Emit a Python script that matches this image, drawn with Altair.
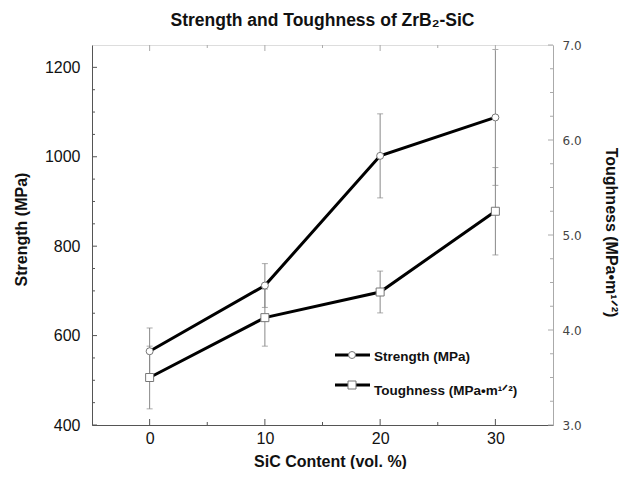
import altair as alt
import pandas as pd

# ---- data ----
SIC = [0, 10, 20, 30]
STRENGTH = [565, 712, 1002, 1088]
STRENGTH_ERR = [52, 49, 94, 152]
TOUGHNESS = [3.50, 4.13, 4.40, 5.25]
TOUGHNESS_ERR = [0.33, 0.30, 0.22, 0.46]
SERIES = ["Strength (MPa)", "Toughness (MPa\u2022m\u00b9\u141f\u00b2)"]

X_MAJOR = [0, 10, 20, 30]
X_MINOR = [5, 15, 25]
S_MAJOR = [400, 600, 800, 1000, 1200]
S_MINOR = [450, 500, 550, 650, 700, 750, 850, 900, 950, 1050, 1100, 1150]
T_MAJOR = [3, 4, 5, 6, 7]
T_MINOR = [3.25, 3.5, 3.75, 4.25, 4.5, 4.75, 5.25, 5.5, 5.75, 6.25, 6.5, 6.75]

W, H = 461, 380
X_DOMAIN = [-5, 35]
S_DOMAIN = [400, 1250]
T_DOMAIN = [3, 7]

DARK = "#555555"
LIGHT = "#aaaaaa"
ERR = "#888888"
FONT = "Liberation Sans"

xscale = alt.Scale(domain=X_DOMAIN, nice=False, zero=False)
sscale = alt.Scale(domain=S_DOMAIN, nice=False, zero=False)
tscale = alt.Scale(domain=T_DOMAIN, nice=False, zero=False)

df_s = pd.DataFrame({
    "sic": SIC, "v": STRENGTH,
    "lo": [v - e for v, e in zip(STRENGTH, STRENGTH_ERR)],
    "hi": [v + e for v, e in zip(STRENGTH, STRENGTH_ERR)],
})
df_t = pd.DataFrame({
    "sic": SIC, "v": TOUGHNESS,
    "lo": [v - e for v, e in zip(TOUGHNESS, TOUGHNESS_ERR)],
    "hi": [v + e for v, e in zip(TOUGHNESS, TOUGHNESS_ERR)],
})
caps_s = pd.DataFrame({"sic": SIC + SIC, "c": list(df_s["lo"]) + list(df_s["hi"])})
caps_t = pd.DataFrame({"sic": SIC + SIC, "c": list(df_t["lo"]) + list(df_t["hi"])})

x_axis = alt.Axis(
    orient="bottom", values=X_MAJOR, format="d", ticks=False, tickSize=0,
    grid=False, domainColor=DARK, labelFont=FONT, labelFontSize=16,
    labelColor="#111", labelPadding=5,
    title="SiC Content (vol. %)", titleFont=FONT, titleFontSize=16,
    titleFontWeight="bold", titleColor="#111", titleX=238, titleY=36,
    titleBaseline="middle", titleAlign="center",
)
s_axis = alt.Axis(
    orient="left", values=S_MAJOR, format="d", ticks=False, tickSize=0,
    grid=False, domainColor=DARK, labelFont=FONT, labelFontSize=16,
    labelColor="#111", labelPadding=12, title="Strength (MPa)", titleFont=FONT,
    titleFontSize=16, titleFontWeight="bold", titleColor="#111", titleX=-71,
    titleY=184, titleBaseline="middle", titleAlign="center", titleAngle=270,
)
t_axis = alt.Axis(
    orient="right", values=T_MAJOR, format=".1f", ticks=False, tickSize=0,
    grid=False, domainColor=LIGHT, labelFont="DejaVu Sans", labelFontSize=12,
    labelColor="#444", labelPadding=9, title=SERIES[1], titleFont=FONT,
    titleFontSize=16, titleFontWeight="bold", titleColor="#111",
    titleX=57, titleY=187, titleBaseline="middle", titleAlign="center",
    titleAngle=90,
)

# every layer uses the same x encoding (same axis object) so axes merge cleanly
xn = lambda f: alt.X(f, scale=xscale, axis=x_axis)
ys = lambda f: alt.Y(f, scale=sscale, axis=None)
yt = lambda f: alt.Y(f, scale=tscale, axis=None)

base_s = alt.Chart(df_s)
base_t = alt.Chart(df_t)

# error bars
s_err = base_s.mark_rule(color=ERR, strokeWidth=1).encode(
    x=xn("sic:Q"), y=ys("lo:Q"), y2="hi:Q")
t_err = base_t.mark_rule(color=ERR, strokeWidth=1).encode(
    x=xn("sic:Q"), y=yt("lo:Q"), y2="hi:Q")
s_cap = alt.Chart(caps_s).mark_tick(color=ERR, orient="horizontal", size=6, thickness=1).encode(
    x=xn("sic:Q"), y=ys("c:Q"))
t_cap = alt.Chart(caps_t).mark_tick(color=ERR, orient="horizontal", size=6, thickness=1).encode(
    x=xn("sic:Q"), y=yt("c:Q"))

# lines (carry the y axes)
s_line = base_s.mark_line(color="black", strokeWidth=3).encode(
    x=xn("sic:Q"), y=alt.Y("v:Q", scale=sscale, axis=s_axis))
t_line = base_t.mark_line(color="black", strokeWidth=3).encode(
    x=xn("sic:Q"), y=alt.Y("v:Q", scale=tscale, axis=t_axis))

# markers
s_pts = base_s.mark_point(shape="circle", size=49, filled=True, fill="white",
                          stroke="#777", strokeWidth=1, opacity=1).encode(
    x=xn("sic:Q"), y=ys("v:Q"))
t_pts = base_t.mark_point(shape="square", size=64, filled=True, fill="white",
                          stroke="#777", strokeWidth=1, opacity=1).encode(
    x=xn("sic:Q"), y=yt("v:Q"))

# inward ticks
def xticks(vals, y1, y2, color):
    return alt.Chart(pd.DataFrame({"sic": vals})).mark_rule(color=color, strokeWidth=1).encode(
        x=xn("sic:Q"), y=alt.value(y1), y2=alt.value(y2))

def sticks(vals, length):
    return alt.Chart(pd.DataFrame({"t": vals})).mark_rule(color=DARK, strokeWidth=1).encode(
        y=ys("t:Q"), x=alt.value(0), x2=alt.value(length))

def tticks(vals, length):
    return alt.Chart(pd.DataFrame({"t": vals})).mark_rule(color=LIGHT, strokeWidth=1).encode(
        y=yt("t:Q"), x=alt.value(W), x2=alt.value(W - length))

ticks = [
    xticks(X_MAJOR, H, H - 6, DARK), xticks(X_MINOR, H, H - 3, DARK),
    xticks(X_MAJOR, 0, 6, LIGHT), xticks(X_MINOR, 0, 3, LIGHT),
    sticks(S_MAJOR, 5), sticks(S_MINOR, 3),
    tticks(T_MAJOR, 5), tticks(T_MINOR, 3),
]

# legend
def leg_row(i, shape, size, ly, ty):
    d = alt.Chart(pd.DataFrame({"label": [SERIES[i]]}))
    line = d.mark_rule(color="black", strokeWidth=3).encode(
        x=alt.value(243), x2=alt.value(278), y=alt.value(ly))
    pt = d.mark_point(shape=shape, size=size, filled=True, fill="white",
                      stroke="#777", strokeWidth=1, opacity=1).encode(
        x=alt.value(260), y=alt.value(ly))
    txt = d.mark_text(align="left", baseline="middle", font=FONT, fontSize=13.5,
                      fontWeight="bold", color="#111").encode(
        x=alt.value(282), y=alt.value(ty), text="label:N")
    return [line, pt, txt]

legend = leg_row(0, "circle", 49, 310, 312) + leg_row(1, "square", 64, 340, 346)

chart = alt.layer(
    s_err, t_err, s_cap, t_cap, *ticks, s_line, t_line, s_pts, t_pts, *legend
).resolve_scale(y="independent").properties(
    width=W, height=H,
    title=alt.TitleParams("Strength and Toughness of ZrB\u2082-SiC", font=FONT,
                          fontSize=17.5, fontWeight="bold", color="#111",
                          anchor="middle", offset=10),
    padding={"left": 84, "top": 37, "right": 70, "bottom": 44},
    autosize=alt.AutoSizeParams(type="none"),
).configure_view(stroke=LIGHT, strokeWidth=1).configure(background="white")

chart.save("out.html", embed_options={"renderer": "svg", "actions": False})
